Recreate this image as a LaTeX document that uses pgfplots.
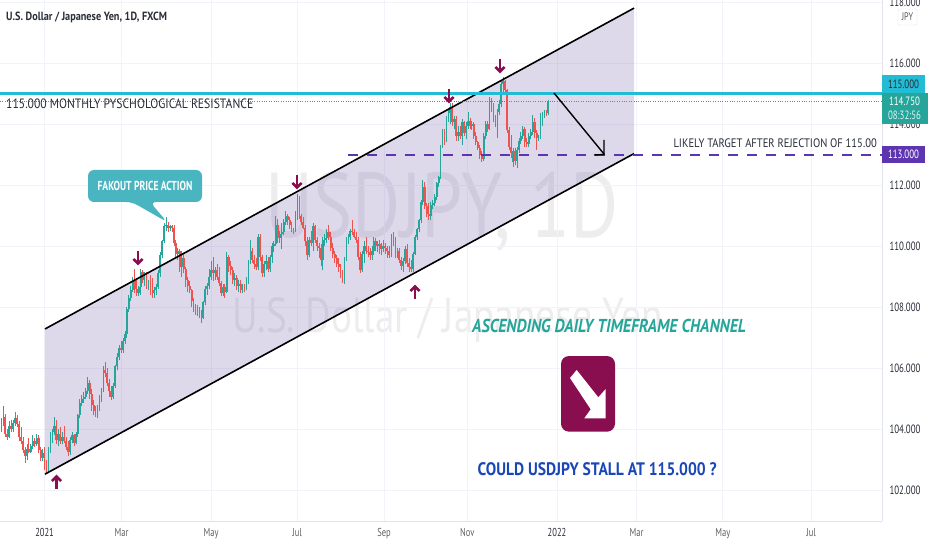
\documentclass[border=0pt]{standalone}
\usepackage{pgfplots}
\usepackage{pgfplotstable}
\usepackage{fontspec}
\pgfplotsset{compat=1.18}
\setmainfont[FakeStretch=0.86]{PT Sans}
\newfontfamily\narrow[FakeStretch=0.74]{PT Sans}
\newfontfamily\wm[FakeStretch=0.8]{PT Sans}
\definecolor{upc}{HTML}{26A69A}
\definecolor{dnc}{HTML}{EF5350}
\definecolor{chan}{HTML}{5A3F9E}
\definecolor{mar}{HTML}{880E4F}
\definecolor{cyanl}{HTML}{22BCD4}
\definecolor{purp}{HTML}{5E35B1}
\definecolor{gridc}{HTML}{F1F3F8}
\definecolor{axc}{HTML}{E0E3EB}
\definecolor{txt}{HTML}{2A2E39}
\definecolor{bluet}{HTML}{1A47B8}
\definecolor{callout}{HTML}{48B5C0}
\pgfplotstableread{
x o h l c
-23 104.2 104.4 103.9 104.0
-22 104.0 104.35 103.9 104.25
-21 104.25 104.75 104.1 104.4
-20 104.4 104.5 103.75 103.85
-19 103.85 104.0 103.65 103.75
-18 103.75 104.25 103.7 104.1
-17 104.1 104.3 103.9 104.0
-16 104.0 104.3 103.9 104.2
-15 104.2 104.55 104.1 104.35
-14 104.35 104.45 104.05 104.15
-13 104.15 104.25 103.6 103.75
-12 103.75 104.05 103.5 103.6
-11 103.6 103.75 103.2 103.3
-10 103.3 103.4 102.9 103.1
-9 103.1 103.5 103.0 103.35
-8 103.35 103.7 103.2 103.25
-7 103.25 103.5 103.2 103.45
-6 103.45 103.8 103.35 103.6
-5 103.6 103.7 103.4 103.5
-4 103.5 103.85 103.45 103.7
-3 103.7 103.8 103.2 103.3
-2 103.3 103.4 102.95 103.05
-1 103.05 103.35 102.95 103.2
0 103.2 103.4 102.65 102.8
1 102.8 103.0 102.52 102.65
2 102.65 103.4 102.6 103.3
3 103.3 103.9 103.2 103.75
4 103.75 104.0 103.55 103.9
5 103.9 104.4 103.8 104.1
6 104.1 104.3 103.5 103.65
7 103.65 104.0 103.45 103.85
8 103.85 104.05 103.5 103.6
9 103.6 103.9 103.5 103.75
10 103.75 104.1 103.55 103.6
11 103.6 103.75 103.3 103.4
12 103.4 103.6 103.1 103.25
13 103.25 103.75 103.15 103.65
14 103.65 103.9 103.55 103.8
15 103.8 103.85 103.45 103.55
16 103.55 103.9 103.5 103.85
17 103.85 104.5 103.75 104.45
18 104.45 105.0 104.35 104.85
19 104.85 105.1 104.75 105.0
20 105.0 105.2 104.85 105.05
21 105.05 105.35 105.0 105.25
22 105.25 105.7 105.15 105.5
23 105.5 105.6 105.0 105.15
24 105.15 105.3 104.6 104.8
25 104.8 104.95 104.45 104.6
26 104.6 104.75 104.4 104.5
27 104.5 104.8 104.35 104.7
28 104.7 105.1 104.6 105.0
29 105.0 105.35 104.9 105.25
30 105.25 106.05 105.2 105.95
31 105.95 106.2 105.7 105.85
32 105.85 106.0 105.4 105.5
33 105.5 105.65 105.05 105.25
34 105.25 105.4 104.95 105.05
35 105.05 105.5 105.0 105.4
36 105.4 106.1 105.35 106.05
37 106.05 106.5 105.95 106.35
38 106.35 106.75 106.25 106.65
39 106.65 106.9 106.5 106.6
40 106.6 107.0 106.5 106.9
41 106.9 107.2 106.8 107.1
42 107.1 108.0 107.0 107.95
43 107.95 108.4 107.85 108.3
44 108.3 108.7 108.2 108.55
45 108.55 109.0 108.5 108.9
46 108.9 109.25 108.45 108.6
47 108.6 108.95 108.35 108.45
48 108.45 108.7 108.35 108.65
49 108.65 109.25 108.4 109.15
50 109.15 109.2 108.8 108.9
51 108.9 109.15 108.7 109.0
52 109.0 109.15 108.6 108.75
53 108.75 108.9 108.55 108.8
54 108.8 109.05 108.4 108.6
55 108.6 108.95 108.3 108.45
56 108.45 108.65 108.3 108.55
57 108.55 108.75 108.4 108.65
58 108.65 109.2 108.6 109.1
59 109.1 109.8 109.0 109.7
60 109.7 110.2 109.6 110.15
61 110.15 110.75 110.1 110.65
62 110.65 110.95 110.5 110.7
63 110.7 110.8 110.45 110.6
64 110.6 110.7 110.5 110.65
65 110.65 110.7 110.45 110.6
66 110.6 110.7 110.0 110.1
67 110.1 110.2 109.65 109.75
68 109.75 109.95 109.55 109.85
69 109.85 109.9 109.15 109.3
70 109.3 109.85 109.0 109.6
71 109.6 109.75 109.1 109.25
72 109.25 109.3 108.65 108.9
73 108.9 109.0 108.5 108.7
74 108.7 108.85 108.45 108.55
75 108.55 108.6 108.0 108.2
76 108.2 108.3 107.85 108.0
77 108.0 108.1 107.75 107.9
78 107.9 108.05 107.7 107.85
79 107.85 108.0 107.65 107.75
80 107.75 107.9 107.47 107.65
81 107.65 108.2 107.6 108.15
82 108.15 108.7 108.05 108.6
83 108.6 108.8 108.4 108.7
84 108.7 109.25 108.6 109.0
85 109.0 109.5 108.9 109.2
86 109.2 109.65 108.85 109.1
87 109.1 109.3 108.9 109.2
88 109.2 109.4 108.9 109.0
89 109.0 109.3 108.7 108.8
90 108.8 108.85 108.35 108.45
91 108.45 108.75 108.35 108.65
92 108.65 108.75 108.3 108.5
93 108.5 109.8 108.45 109.65
94 109.65 109.7 109.15 109.35
95 109.35 109.5 109.05 109.2
96 109.2 109.3 108.75 108.9
97 108.9 109.1 108.7 108.95
98 108.95 109.05 108.55 108.7
99 108.7 108.9 108.5 108.75
100 108.75 108.9 108.45 108.55
101 108.55 108.75 108.45 108.65
102 108.65 108.75 108.5 108.6
103 108.6 109.0 108.55 108.85
104 108.85 109.55 108.75 109.45
105 109.45 110.2 109.4 109.85
106 109.85 109.95 109.45 109.55
107 109.55 109.7 109.25 109.4
108 109.4 109.6 109.2 109.3
109 109.3 110.4 109.2 110.3
110 110.3 110.4 109.5 109.65
111 109.65 109.7 109.0 109.1
112 109.1 109.5 109.0 109.4
113 109.4 109.7 109.2 109.5
114 109.5 109.65 109.15 109.25
115 109.25 109.7 109.15 109.65
116 109.65 110.1 109.45 110.0
117 110.0 110.15 109.8 110.05
118 110.05 111.0 110.0 110.7
119 110.7 110.9 110.1 110.25
120 110.25 110.5 110.1 110.4
121 110.4 110.75 109.9 110.45
122 110.45 110.9 110.35 110.8
123 110.8 111.15 110.7 111.0
124 111.0 111.05 110.7 110.85
125 110.85 110.95 110.55 110.7
126 110.7 110.8 110.45 110.55
127 110.55 110.6 110.4 110.5
128 110.5 111.15 110.45 111.05
129 110.9 111.7 110.85 111.6
130 111.6 111.65 110.9 111.0
131 111.0 111.05 110.7 110.8
132 110.8 110.95 110.55 110.6
133 110.6 110.7 110.0 110.15
134 110.15 110.3 109.55 109.7
135 109.7 110.3 109.65 110.2
136 110.2 110.5 110.0 110.1
137 110.1 110.75 109.85 110.65
138 110.65 110.7 110.1 110.2
139 110.2 110.3 109.85 110.0
140 110.0 110.1 109.6 109.95
141 109.95 110.05 109.35 109.55
142 109.55 110.3 109.2 110.2
143 110.2 110.4 110.0 110.25
144 110.25 110.55 110.1 110.45
145 110.45 110.7 110.2 110.3
146 110.3 110.45 109.85 109.95
147 109.95 110.1 109.6 109.75
148 109.75 109.85 109.45 109.6
149 109.6 109.7 109.3 109.4
150 109.4 109.6 109.15 109.3
151 109.3 109.4 108.95 109.0
152 109.0 109.2 108.8 108.95
153 108.95 109.65 108.75 109.6
154 109.6 110.3 109.5 110.2
155 110.2 110.4 110.05 110.3
156 110.3 110.55 110.2 110.5
157 110.5 110.85 110.35 110.45
158 110.45 110.55 110.25 110.3
159 110.3 110.45 110.1 110.2
160 110.2 110.3 109.55 109.65
161 109.65 109.8 109.1 109.2
162 109.2 109.85 109.15 109.75
163 109.75 110.15 109.45 110.0
164 110.0 110.3 109.75 109.85
165 109.85 110.0 109.65 109.8
166 109.8 109.95 109.55 109.7
167 109.7 110.0 109.55 109.85
168 109.85 110.3 109.7 110.15
169 110.15 110.25 109.85 110.0
170 110.0 110.15 109.8 110.05
171 110.05 110.2 109.75 109.9
172 109.9 110.1 109.7 110.0
173 110.0 110.2 109.8 109.95
174 109.95 110.1 109.75 109.85
175 109.85 110.0 109.6 109.7
176 109.7 110.0 109.6 109.9
177 109.9 110.4 109.65 110.3
178 110.3 110.45 110.0 110.1
179 110.1 110.3 109.6 109.75
180 109.75 109.95 109.6 109.85
181 109.85 109.95 109.45 109.55
182 109.55 109.65 109.2 109.35
183 109.35 109.6 109.15 109.5
184 109.5 110.0 109.4 109.9
185 109.9 110.05 109.3 109.45
186 109.45 109.6 109.16 109.3
187 109.3 109.55 109.16 109.25
188 109.25 109.8 109.16 109.75
189 109.75 110.35 109.7 110.3
190 110.3 110.6 110.2 110.55
191 110.55 110.9 110.45 110.85
192 110.85 111.5 110.75 111.45
193 111.45 112.15 111.35 111.95
194 111.95 112.1 111.2 111.3
195 111.3 111.4 110.95 111.05
196 111.05 111.4 110.85 111.0
197 111.0 111.45 110.85 111.35
198 111.35 111.5 111.2 111.4
199 111.4 111.7 111.3 111.6
200 111.6 112.1 111.5 112.05
201 112.05 112.3 111.95 112.25
202 112.25 113.3 112.2 113.25
203 113.25 113.85 113.2 113.75
204 113.75 113.85 113.3 113.45
205 113.45 114.25 113.4 114.2
206 114.2 114.45 114.05 114.35
207 114.35 114.7 114.0 114.55
208 114.55 114.7 113.95 114.05
209 114.05 114.25 113.85 114.15
210 114.15 114.25 113.45 113.6
211 113.6 113.95 113.45 113.75
212 113.75 113.95 113.5 113.6
213 113.6 114.15 113.3 114.05
214 114.05 114.1 113.6 113.7
215 113.7 114.05 113.5 113.95
216 113.95 114.4 113.85 114.1
217 114.1 114.2 113.85 113.95
218 113.95 114.1 113.8 114.0
219 114.0 114.05 113.5 113.6
220 113.6 113.75 113.3 113.4
221 113.4 113.45 113.15 113.2
222 113.2 113.3 112.85 113.0
223 113.0 113.1 112.76 112.85
224 112.85 113.7 112.8 113.6
225 113.6 114.1 113.5 114.0
226 114.0 114.1 113.75 113.85
227 113.85 114.9 113.8 114.75
228 114.8 114.85 114.4 114.5
229 114.5 114.7 114.05 114.15
230 114.15 114.3 113.9 114.0
231 114.0 114.5 113.55 114.4
232 114.4 114.8 114.3 114.65
233 114.65 115.4 114.55 115.3
234 115.3 115.53 115.05 115.4
235 115.4 115.45 115.0 115.1
236 115.1 115.15 113.7 113.8
237 113.8 113.9 113.15 113.25
238 113.25 113.65 112.9 113.05
239 112.75 113.2 112.6 113.1
240 113.1 113.2 112.65 112.8
241 112.8 113.25 112.55 113.15
242 113.15 113.55 113.05 113.45
243 113.45 113.75 113.35 113.6
244 113.6 113.95 113.5 113.85
245 113.85 113.9 113.25 113.4
246 113.4 113.55 113.25 113.35
247 113.35 113.7 113.25 113.6
248 113.6 113.85 113.5 113.75
249 113.75 114.3 113.65 114.05
250 114.05 114.2 113.55 113.7
251 113.7 113.8 113.15 113.55
252 113.55 113.65 113.45 113.6
253 113.6 114.35 113.5 114.25
254 114.25 114.4 113.95 114.3
255 114.3 114.45 114.2 114.4
256 114.4 114.45 114.25 114.35
257 114.35 114.8 114.3 114.75
}\ohlc
% one colour of candles: #1 colour, #2 test
\newcommand\candles[2]{%
  \addplot[draw=none,mark=none,forget plot,
    error bars/.cd,y dir=plus,y explicit,error mark=none,
    error bar style={solid,draw=#1,line width=0.9pt}]
    table[x expr={(\thisrow{c}#2\thisrow{o}) ? \thisrow{x} : nan},
          y expr=\thisrow{l},y error plus expr=\thisrow{h}-\thisrow{l}] {\ohlc};
  \addplot[draw=none,mark=none,forget plot,
    error bars/.cd,y dir=plus,y explicit,error mark=none,
    error bar style={solid,draw=#1,line width=1.8pt}]
    table[x expr={(\thisrow{c}#2\thisrow{o}) ? \thisrow{x} : nan},
          y expr={min(\thisrow{o},\thisrow{c})},y error plus expr={abs(\thisrow{c}-\thisrow{o})}] {\ohlc};
}
\begin{document}
\begin{tikzpicture}[x=1pt,y=1pt]
\path[use as bounding box,fill=white] (0,0) rectangle (932,550);
% watermark, under everything
\begin{scope}[y=-1pt,yshift=550pt]
\node[anchor=west,text=black!7,inner sep=0,font=\wm\fontsize{92}{92}\selectfont] at (265,212) {USDJPY, 1D};
\node[anchor=west,text=black!7,inner sep=0,font=\wm\fontsize{49}{49}\selectfont] at (232,320) {U.S. Dollar / Japanese Yen};
\end{scope}
\begin{axis}[
  at={(0pt,29pt)},anchor=south west,scale only axis,width=882pt,height=521pt,
  xmin=-22.75,xmax=427.2,ymin=100.984,ymax=118.066,
  axis x line*=bottom,axis y line*=right,
  axis line style={axc},major tick length=0pt,
  clip mode=individual,
  grid=major,grid style={gridc,line width=0.7pt},
  xtick={0,39.3,84.9,128.8,173.2,215.6,261.4,302,346,391},
  xticklabels={\textcolor{txt}{2021},Mar,May,Jul,Sep,Nov,\textcolor{txt}{2022},Mar,May,Jul},
  xticklabel style={font=\narrow\fontsize{11.5}{12}\selectfont,text=black!62,yshift=-4pt},
  ytick={102,104,106,108,110,112,114,116,118},
  yticklabel style={font=\narrow\fontsize{12}{12}\selectfont,text=txt,xshift=4pt},
  /pgf/number format/assume math mode=true,
  /pgf/number format/fixed,/pgf/number format/fixed zerofill,/pgf/number format/precision=3,
  /pgf/number format/1000 sep={},
]
\addplot[fill=chan,fill opacity=0.2,draw=none,forget plot] coordinates {(0.2,107.28)(300.7,117.80)(300.7,113.03)(0.2,102.52)(0.2,107.28)};
\candles{upc}{>=}
\candles{dnc}{<}
\addplot[draw=black,line width=1.6pt,forget plot] coordinates {(0.2,107.28)(300.7,117.80)};
\addplot[draw=black,line width=1.6pt,forget plot] coordinates {(0.2,102.52)(300.7,113.03)};
\addplot[draw=upc,line width=0.9pt,dash pattern=on 1pt off 1.4pt,forget plot] coordinates {(-22.75,114.75)(200,114.75)(427.2,114.75)};
\addplot[draw=cyanl,line width=2.2pt,solid,forget plot] coordinates {(-22.75,115)(200,115)(427.2,115)};
\addplot[draw=purp,line width=2pt,dash pattern=on 10pt off 9pt,forget plot] coordinates {(154.8,113)(300,113)(427.2,113)};
\end{axis}
% annotations, written in the reference's pixels
\begin{scope}[y=-1pt,yshift=550pt]
\node[anchor=west,text=txt,font=\fontsize{11.9}{13}\selectfont\bfseries,inner sep=0] at (6,17) {U.S. Dollar / Japanese Yen, 1D, FXCM};
\node[anchor=west,text=txt,font=\fontsize{13.55}{14}\selectfont,inner sep=0] at (6,103.5) {115.000 MONTHLY PYSCHOLOGICAL RESISTANCE};
\node[anchor=east,text=txt,font=\fontsize{12.3}{13}\selectfont,inner sep=0] at (877,143) {LIKELY TARGET AFTER REJECTION OF 115.00};
% target arrow
\draw[black,line width=1.4pt] (554,93) -- (604,154);
\draw[black,line width=1.4pt] (604,140) -- (604,154.5) -- (594,155);
% callout
\fill[rounded corners=6pt,fill=callout] (88,170) -- (202,170) -- (202,202) -- (150,202) -- (167,222) -- (132,202) -- (88,202) -- cycle;
\node[text=white,font=\narrow\fontsize{13}{13}\selectfont\bfseries] at (145,186) {FAKOUT PRICE ACTION};
% maroon arrows
\foreach \ax/\ay/\d in {138/258/1,297/182/1,449/96/1,500/66/1,56.5/482/-1,415/292/-1}{
  \begin{scope}[shift={(\ax,\ay)},yscale=\d]
  \draw[mar,line width=2.4pt] (0,-7) -- (0,5);
  \draw[mar,line width=2.6pt] (-4.6,1) -- (0,5.5) -- (4.6,1);
  \end{scope}}
\node[anchor=west,text=upc,font=\fontsize{18.7}{19}\selectfont\bfseries\itshape,inner sep=0] at (472,325.5) {ASCENDING DAILY TIMEFRAME CHANNEL};
\node[anchor=west,text=bluet,font=\fontsize{18.1}{19}\selectfont\bfseries,inner sep=0] at (477.5,469) {COULD USDJPY STALL AT 115.000 ?};
\fill[mar,rounded corners=8pt] (561,356) rectangle (615,431.7);
\fill[white] (570,378) -- (576.7,370) -- (598.3,397.3) -- (605.7,389) -- (605.7,418.3) -- (584.3,418.3) -- (590.7,409.3) -- cycle;
% price scale
\fill[cyanl] (882,75) rectangle (925,93.5);
\node[text=txt,font=\narrow\fontsize{12}{12}\selectfont] at (903.5,84) {115.000};
\fill[upc] (882,93.5) rectangle (928,124);
\node[text=white,font=\narrow\fontsize{12}{12}\selectfont] at (904.5,101.5) {114.750};
\node[text=white!85!upc,font=\narrow\fontsize{12}{12}\selectfont] at (904.5,115.5) {08:32:56};
\fill[purp] (882,146) rectangle (925,163);
\node[text=white,font=\narrow\fontsize{12}{12}\selectfont] at (903.5,154.5) {113.000};
\draw[axc,rounded corners=2pt,fill=white] (898,9) rectangle (917,25);
\node[text=black!65,font=\narrow\fontsize{11}{11}\selectfont] at (907.5,17) {JPY};
\end{scope}
\end{tikzpicture}
\end{document}
